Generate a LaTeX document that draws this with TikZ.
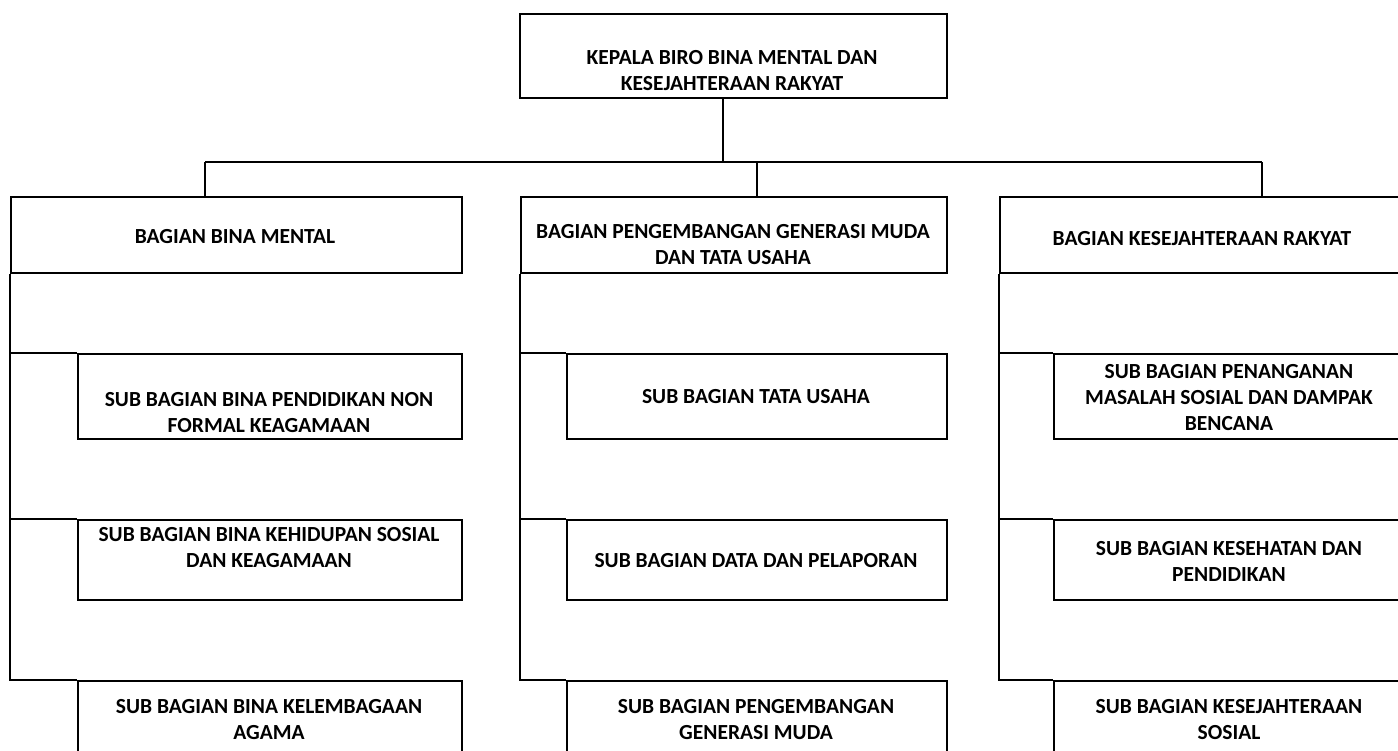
\documentclass[tikz,border=0pt]{standalone}
\usepackage{fontspec}
\setmainfont{Carlito}
\usetikzlibrary{calc}
\begin{document}
\begin{tikzpicture}[x=1pt,y=-1pt,
  box/.style={draw,line width=2pt,inner sep=0pt,anchor=north west},
  txt/.style={align=center,inner sep=0pt,font=\fontsize{21.5}{26}\selectfont\bfseries},
  conn/.style={line width=2pt}]
\useasboundingbox (0,0) rectangle (1398,750);
% top
\node[box,minimum width=427pt,minimum height=84pt] (top) at (519,13) {};
\node[txt] (topt) at (732,71) {KEPALA BIRO BINA MENTAL DAN\\KESEJAHTERAAN RAKYAT};
% headers
\node[box,minimum width=451pt,minimum height=76pt] (hL) at (10,196) {};
\node[box,minimum width=426pt,minimum height=76pt] (hM) at (520,196) {};
\node[box,minimum width=407pt,minimum height=76pt] (hR) at (999,196) {};
\node[txt] at (235,237) {BAGIAN BINA MENTAL};
\node[txt] at (733,245) {BAGIAN PENGEMBANGAN GENERASI MUDA\\DAN TATA USAHA};
\node[txt] at (1202,239) {BAGIAN KESEJAHTERAAN RAKYAT};
% left subs
\node[box,minimum width=384pt,minimum height=85pt] (l1) at (77,353) {};
\node[box,minimum width=384pt,minimum height=80pt] (l2) at (77,519) {};
\node[box,minimum width=384pt,minimum height=90pt] (l3) at (77,680) {};
\node[txt] at (269,413) {SUB BAGIAN BINA PENDIDIKAN NON\\FORMAL KEAGAMAAN};
\node[txt] at (269,548) {SUB BAGIAN BINA KEHIDUPAN SOSIAL\\DAN KEAGAMAAN};
\node[txt] at (269,720) {SUB BAGIAN BINA KELEMBAGAAN\\AGAMA};
% middle subs
\node[box,minimum width=380pt,minimum height=85pt] (m1) at (566,353) {};
\node[box,minimum width=380pt,minimum height=80pt] (m2) at (566,519) {};
\node[box,minimum width=380pt,minimum height=90pt] (m3) at (566,680) {};
\node[txt] at (756,397) {SUB BAGIAN TATA USAHA};
\node[txt] at (756,561) {SUB BAGIAN DATA DAN PELAPORAN};
\node[txt] at (756,720) {SUB BAGIAN PENGEMBANGAN\\GENERASI MUDA};
% right subs
\node[box,minimum width=353pt,minimum height=85pt] (r1) at (1053,353) {};
\node[box,minimum width=353pt,minimum height=80pt] (r2) at (1053,519) {};
\node[box,minimum width=353pt,minimum height=90pt] (r3) at (1053,680) {};
\node[txt] at (1229,398) {SUB BAGIAN PENANGANAN\\MASALAH SOSIAL DAN DAMPAK\\BENCANA};
\node[txt] at (1229,561) {SUB BAGIAN KESEHATAN DAN\\PENDIDIKAN};
\node[txt] at (1229,720) {SUB BAGIAN KESEJAHTERAAN\\SOSIAL};
% connectors
\coordinate (j0) at (723,162);
\coordinate (jL) at (205,162);
\coordinate (jM) at (757,162);
\coordinate (jR) at (1262,162);
\draw[conn] (top.south -| j0) -- (j0);
\draw[conn] (jL) -- (jR);
\draw[conn] (jL) -- (jL |- hL.north);
\draw[conn] (jM) -- (jM |- hM.north);
\draw[conn] (jR) -- (jR |- hR.north);
\foreach \h/\a/\b/\c in {hL/l1/l2/l3, hM/m1/m2/m3, hR/r1/r2/r3}{
  \draw[conn] (\h.south west) -- (\h.south west |- \c.north) -- (\c.north west);
  \draw[conn] (\h.south west |- \a.north) -- (\a.north west);
  \draw[conn] (\h.south west |- \b.north) -- (\b.north west);
}
\end{tikzpicture}
\end{document}
